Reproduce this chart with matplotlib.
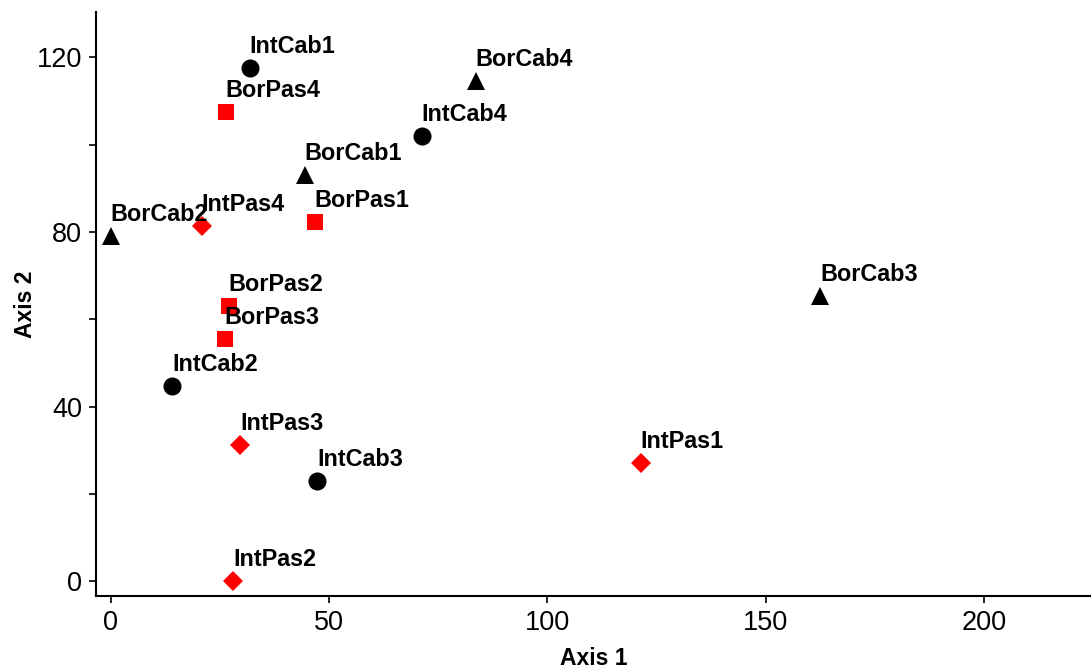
import matplotlib
matplotlib.use("Agg")
import matplotlib.pyplot as plt
from matplotlib.ticker import MultipleLocator

plt.rcParams['font.family'] = ['Liberation Sans', 'DejaVu Sans']

# site scores on the two ordination axes
int_cab = ["IntCab1", "IntCab2", "IntCab3", "IntCab4"]
int_cab_x = [31.8, 14.0, 47.2, 71.2]
int_cab_y = [117.5, 44.7, 22.9, 101.9]

bor_cab = ["BorCab1", "BorCab2", "BorCab3", "BorCab4"]
bor_cab_x = [44.4, 0.0, 162.4, 83.6]
bor_cab_y = [93.0, 79.0, 65.3, 114.5]

bor_pas = ["BorPas1", "BorPas2", "BorPas3", "BorPas4"]
bor_pas_x = [46.7, 27.0, 26.1, 26.3]
bor_pas_y = [82.2, 63.0, 55.4, 107.4]

int_pas = ["IntPas1", "IntPas2", "IntPas3", "IntPas4"]
int_pas_x = [121.4, 28.0, 29.6, 20.8]
int_pas_y = [27.0, 0.0, 31.2, 81.3]

groups = [
    (int_cab, int_cab_x, int_cab_y, "o", "black", 13),
    (bor_cab, bor_cab_x, bor_cab_y, "^", "black", 13.5),
    (bor_pas, bor_pas_x, bor_pas_y, "s", "red", 12),
    (int_pas, int_pas_x, int_pas_y, "D", "red", 10),
]

fig = plt.figure(figsize=(10.91, 6.69), dpi=100)
ax = fig.add_axes([0.088, 0.109, 0.912, 0.873])

for names, xs, ys, mk, col, ms in groups:
    ax.plot(xs, ys, linestyle="none", marker=mk, color=col, markersize=ms,
            markeredgewidth=0, clip_on=False)
    for n, x, y in zip(names, xs, ys):
        ax.annotate(n, (x, y), xytext=(0, 7.5), textcoords="offset points",
                    ha="left", va="bottom", fontsize=16.8, fontweight="bold")

ax.set_xlim(-3.4, 224.5)
ax.set_ylim(-3.4, 130.4)
ax.xaxis.set_major_locator(MultipleLocator(50))
ax.yaxis.set_major_locator(MultipleLocator(40))
ax.yaxis.set_minor_locator(MultipleLocator(20))
ax.tick_params(axis="both", which="both", direction="out", length=5, width=1.2,
               labelsize=19.5, pad=5)
ax.tick_params(axis="y", which="minor", length=5)

for side in ["top", "right"]:
    ax.spines[side].set_visible(False)
for side in ["left", "bottom"]:
    ax.spines[side].set_linewidth(1.5)

ax.set_xlabel("Axis 1", fontsize=16.5, fontweight="bold", labelpad=8)
ax.set_ylabel("Axis 2", fontsize=16.5, fontweight="bold", labelpad=0)

fig.savefig("out.png", dpi=100)
